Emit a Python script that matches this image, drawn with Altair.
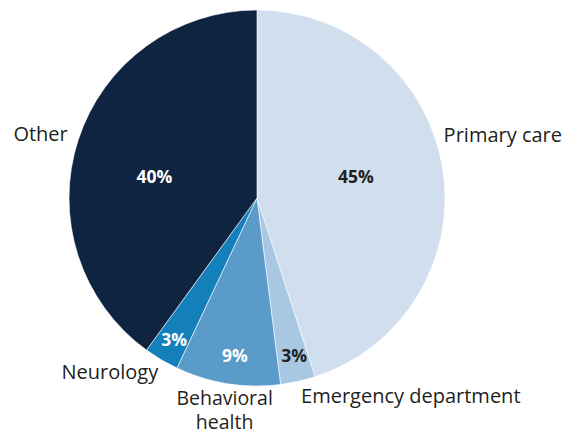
import altair as alt
import pandas as pd

categories = ["Primary care", "Emergency department", "Behavioral health", "Neurology", "Other"]
shares = [45, 3, 9, 3, 40]
pct_labels = ["45%", "3%", "9%", "3%", "40%"]
name_labels = ["Primary care", "Emergency department", "Behavioral\nhealth", "Neurology", "Other"]
colors = ["#d0deed", "#a7c7e3", "#5a9bc9", "#1380bb", "#0e2440"]
label_colors = ["#231f20", "#231f20", "#ffffff", "#ffffff", "#ffffff"]

df = pd.DataFrame({
    "category": categories,
    "share": shares,
    "pct": pct_labels,
    "name": name_labels,
    "order": list(range(len(categories))),
    "lcolor": label_colors,
})

CX, CY, R = 249, 190, 188
FONT = "Open Sans"

base = alt.Chart(df).encode(
    theta=alt.Theta("share:Q", stack=True),
    order=alt.Order("order:Q"),
    x=alt.value(CX),
    y=alt.value(CY),
)

pie = base.mark_arc(outerRadius=R, stroke="white", strokeWidth=0.6).encode(
    color=alt.Color("category:N", scale=alt.Scale(domain=categories, range=colors), legend=None)
)

def pct_layer(cats, radius, dx=0, dy=0):
    return base.mark_text(radius=radius, dx=dx, dy=dy, font=FONT, fontSize=17.5, fontWeight="bold").encode(
        text=alt.condition(
            alt.FieldOneOfPredicate(field="category", oneOf=cats),
            alt.Text("pct:N"),
            alt.value(""),
        ),
        color=alt.Color("lcolor:N", scale=None),
    )

pcts = [
    pct_layer(["Primary care"], 100, dy=-4),
    pct_layer(["Other"], 108, dy=13),
    pct_layer(["Emergency department"], 161, dx=2, dy=2),
    pct_layer(["Behavioral health"], 161, dx=3),
    pct_layer(["Neurology"], 163, dy=3),
]

def name_layer(cat, radius, align, dx=0, dy=0, size=20, lh=24):
    return base.mark_text(
        radius=radius, align=align, baseline="middle", dx=dx, dy=dy,
        font=FONT, fontSize=size, color="#231f20", lineBreak="\n", lineHeight=lh,
    ).encode(
        text=alt.condition(alt.datum.category == cat, alt.Text("name:N"), alt.value(""))
    )

names = [
    name_layer("Primary care", 193, "left", dx=-4, dy=-32),
    name_layer("Other", 199, "right", dy=-2),
    name_layer("Neurology", 194, "right", dy=8),
    name_layer("Behavioral health", 207, "center", dy=-3, size=19.5, lh=24),
    name_layer("Emergency department", 202, "left", dy=2),
]

chart = alt.layer(pie, *pcts, *names).properties(
    width=557, height=425, padding=0, autosize="none"
).configure_view(stroke=None)

chart.save("out.html", embed_options={"renderer": "svg", "actions": False})
